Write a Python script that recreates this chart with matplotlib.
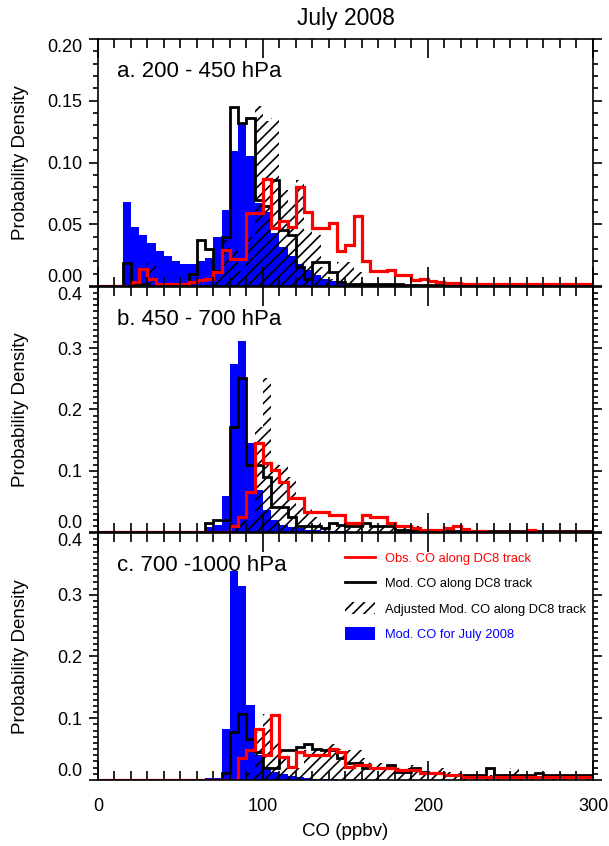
import numpy as np
import matplotlib
matplotlib.use("Agg")
import matplotlib.pyplot as plt
from matplotlib.ticker import MultipleLocator, FormatStrFormatter
from matplotlib.lines import Line2D
from matplotlib.patches import Patch

plt.rcParams['font.family'] = ['Liberation Sans', 'DejaVu Sans']
plt.rcParams['hatch.linewidth'] = 1.2

# CO bins, 5 ppbv wide, 0-300 ppbv
bin_edges = np.arange(0, 305, 5)

# ---- a. 200 - 450 hPa ----
blue_a = [0, 0, 0, 0.068, 0.048, 0.041, 0.035, 0.028, 0.024, 0.0205,
          0.018, 0.018, 0.020, 0.0225, 0.040, 0.0615, 0.109, 0.132, 0.105, 0.067,
          0.060, 0.043, 0.032, 0.024, 0.018, 0.013, 0.009, 0.006, 0.0043, 0.0027,
          0.0016, 0.001, 0.0006, 0.0003, 0, 0, 0, 0, 0, 0,
          0, 0, 0, 0, 0, 0, 0, 0, 0, 0,
          0, 0, 0, 0, 0, 0, 0, 0, 0, 0]
black_a = [0, 0, 0, 0.019, 0.002, 0.002, 0, 0, 0, 0,
           0, 0.010, 0.037, 0.030, 0.012, 0.040, 0.145, 0.132, 0.136, 0.070,
           0.065, 0.086, 0.045, 0.041, 0.0157, 0.006, 0.0197, 0.0197, 0.0116, 0.0035,
           0.002, 0.002, 0.002, 0.002, 0.002, 0.002, 0.002, 0.001, 0.001, 0.001,
           0.001, 0.001, 0.001, 0.001, 0.001, 0.001, 0.001, 0.001, 0.001, 0.001,
           0, 0, 0, 0, 0, 0, 0, 0, 0, 0]
hatch_a = [0, 0, 0, 0, 0, 0, 0.019, 0.002, 0.002, 0,
           0, 0, 0, 0, 0.010, 0.037, 0.030, 0.012, 0.040, 0.146,
           0.134, 0.136, 0.078, 0.068, 0.086, 0.045, 0.041, 0.0157, 0.006, 0.0197,
           0.0197, 0.0116, 0.0035, 0.002, 0.002, 0.002, 0.002, 0.002, 0.002, 0.002,
           0.001, 0.001, 0.001, 0.001, 0.001, 0.001, 0.001, 0.001, 0.001, 0.001,
           0.001, 0.001, 0.001, 0, 0, 0, 0, 0, 0, 0]
red_a = [0, 0, 0, 0, 0.003, 0.014, 0.006, 0.002, 0.002, 0.002,
         0.002, 0.0035, 0.005, 0.006, 0.0116, 0.029, 0.022, 0.022, 0.059, 0.059,
         0.087, 0.047, 0.053, 0.048, 0.080, 0.060, 0.047, 0.047, 0.051, 0.028,
         0.033, 0.057, 0.020, 0.012, 0.012, 0.013, 0.009, 0.009, 0.005, 0.006,
         0.0043, 0.0035, 0.0027, 0.0027, 0.0016, 0.002, 0.002, 0.002, 0.002, 0.002,
         0.002, 0.002, 0.002, 0.002, 0.002, 0.002, 0.002, 0.002, 0.002, 0.002]

# ---- b. 450 - 700 hPa ----
blue_b = [0, 0, 0, 0, 0, 0, 0, 0, 0, 0,
          0, 0, 0, 0.008, 0.011, 0.058, 0.275, 0.312, 0.146, 0.0685,
          0.036, 0.0196, 0.0114, 0.0087, 0.006, 0.004, 0.003, 0.002, 0.0015, 0.001,
          0.0007, 0.0004, 0.0004, 0.0004, 0, 0, 0, 0, 0, 0,
          0, 0, 0, 0, 0, 0, 0, 0, 0, 0,
          0, 0, 0, 0, 0, 0, 0, 0, 0, 0]
black_b = [0, 0, 0, 0, 0, 0, 0, 0, 0, 0,
           0, 0, 0, 0.015, 0.0196, 0.0196, 0.172, 0.251, 0.109, 0.109,
           0.090, 0.041, 0.041, 0.025, 0.009, 0.009, 0.009, 0.006, 0.014, 0.011,
           0.009, 0.009, 0.014, 0.009, 0.009, 0.009, 0.004, 0.004, 0.004, 0.004,
           0.002, 0.002, 0.002, 0.002, 0.002, 0.002, 0.002, 0.002, 0.002, 0.002,
           0.002, 0.002, 0.002, 0.002, 0.002, 0.002, 0.002, 0.002, 0.002, 0.002]
hatch_b = [0, 0, 0, 0, 0, 0, 0, 0, 0, 0,
           0, 0, 0, 0, 0, 0, 0.015, 0.0196, 0.0196, 0.172,
           0.251, 0.112, 0.109, 0.090, 0.041, 0.041, 0.025, 0.009, 0.009, 0.009,
           0.006, 0.014, 0.011, 0.009, 0.009, 0.014, 0.009, 0.009, 0.009, 0.004,
           0.004, 0.004, 0.004, 0.002, 0.002, 0.002, 0.002, 0.002, 0.002, 0.002,
           0.002, 0.002, 0.002, 0.002, 0.002, 0.002, 0.002, 0.002, 0.002, 0.002]
red_b = [0, 0, 0, 0, 0, 0, 0, 0, 0, 0,
         0, 0, 0, 0, 0, 0, 0.009, 0.025, 0.066, 0.145,
         0.113, 0.101, 0.082, 0.055, 0.055, 0.033, 0.033, 0.033, 0.028, 0.028,
         0.014, 0.014, 0.028, 0.025, 0.025, 0.014, 0.009, 0.009, 0.006, 0.003,
         0.003, 0.003, 0.006, 0.009, 0.0045, 0.002, 0.002, 0.0005, 0.0005, 0.0005,
         0.0005, 0.0005, 0.003, 0.0005, 0.0005, 0.0005, 0.0005, 0.0005, 0.0005, 0.0005]

# ---- c. 700 - 1000 hPa ----
blue_c = [0, 0, 0, 0, 0, 0, 0, 0, 0, 0,
          0, 0, 0, 0.004, 0.004, 0.082, 0.339, 0.314, 0.1215, 0.0405,
          0.0216, 0.0135, 0.009, 0.006, 0.0045, 0.003, 0.002, 0.0015, 0.001, 0.0005,
          0.0005, 0.0005, 0, 0, 0, 0, 0, 0, 0, 0,
          0, 0, 0, 0, 0, 0, 0, 0, 0, 0,
          0, 0, 0, 0, 0, 0, 0, 0, 0, 0]
black_c = [0, 0, 0, 0, 0, 0, 0, 0, 0, 0,
           0, 0, 0, 0, 0, 0.011, 0.078, 0.107, 0.066, 0.045,
           0.020, 0.020, 0.0486, 0.0486, 0.054, 0.059, 0.051, 0.049, 0.049, 0.035,
           0.027, 0.027, 0.019, 0.019, 0.019, 0.024, 0.013, 0.013, 0.019, 0.013,
           0.011, 0.011, 0.008, 0.008, 0.008, 0.008, 0.008, 0.019, 0.008, 0.008,
           0.008, 0.008, 0.008, 0.011, 0.008, 0.008, 0.008, 0.008, 0.008, 0.008]
hatch_c = [0, 0, 0, 0, 0, 0, 0, 0, 0, 0,
           0, 0, 0, 0, 0, 0, 0, 0, 0.011, 0.078,
           0.107, 0.066, 0.045, 0.020, 0.020, 0.0486, 0.0486, 0.054, 0.059, 0.051,
           0.049, 0.049, 0.035, 0.027, 0.027, 0.019, 0.019, 0.019, 0.024, 0.013,
           0.013, 0.019, 0.013, 0.011, 0.011, 0.008, 0.008, 0.008, 0.008, 0.008,
           0.019, 0.008, 0.008, 0.008, 0.008, 0.008, 0.011, 0.008, 0.008, 0.008]
red_c = [0, 0, 0, 0, 0, 0, 0, 0, 0, 0,
         0, 0, 0, 0, 0, 0, 0, 0.035, 0.0486, 0.082,
         0.0405, 0.105, 0.038, 0.0216, 0.046, 0.0405, 0.0405, 0.0405, 0.050, 0.046,
         0.0216, 0.024, 0.024, 0.019, 0.019, 0.019, 0.016, 0.016, 0.016, 0.011,
         0.011, 0.011, 0.008, 0.008, 0.0055, 0.0055, 0.0055, 0.0055, 0.0055, 0.0055,
         0.0055, 0.0055, 0.0045, 0.0045, 0.0045, 0.0045, 0.0045, 0.0045, 0.0045, 0.0045]

panels = [
    ("a. 200 - 450 hPa", blue_a, hatch_a, black_a, red_a, 0.20, 0.05, 0.01, '%.2f'),
    ("b. 450 - 700 hPa", blue_b, hatch_b, black_b, red_b, 0.4, 0.1, 0.01, '%.1f'),
    ("c. 700 -1000 hPa", blue_c, hatch_c, black_c, red_c, 0.4, 0.1, 0.01, '%.1f'),
]
# axes boxes [left, bottom, width, height] in figure fraction
boxes = [[0.1609, 0.6619, 0.8128, 0.2920],
         [0.1609, 0.3712, 0.8128, 0.2896],
         [0.1609, 0.0780, 0.8128, 0.2920]]

fig = plt.figure(figsize=(6.09, 8.46), dpi=100)
axes = []

for k, (label, blue, hatch, black, red, ymax, ymaj, ymin, fmt) in enumerate(panels):
    ax = fig.add_axes(boxes[k])
    axes.append((ax, ymax))
    ax.stairs(blue, bin_edges, fill=True, color='#0000ff', linewidth=0)
    ax.stairs(hatch, bin_edges, fill=True, facecolor='none', edgecolor='black',
              hatch='///', linewidth=0)
    ax.stairs(black, bin_edges, color='black', linewidth=2.0)
    ax.stairs(red, bin_edges, color='#ff0000', linewidth=2.3)

    ax.set_xlim(0, 300)
    ax.set_ylim(0, ymax)
    ax.xaxis.set_major_locator(MultipleLocator(100))
    ax.xaxis.set_minor_locator(MultipleLocator(10))
    ax.set_yticks(np.arange(0, ymax + ymaj / 2, ymaj))
    ax.yaxis.set_minor_locator(MultipleLocator(ymin))
    ax.yaxis.set_major_formatter(FormatStrFormatter(fmt))

    ax.tick_params(axis='x', which='both', direction='in', top=True, bottom=True,
                   width=1.2, labelsize=13, pad=13)
    ax.tick_params(axis='x', which='major', length=14)
    ax.tick_params(axis='x', which='minor', length=6.5)
    ax.tick_params(axis='y', which='both', direction='out', left=True, right=True,
                   width=1.2, labelsize=13, pad=5)
    ax.tick_params(axis='y', which='major', length=6.5)
    ax.tick_params(axis='y', which='minor', length=3.5)
    for s in ax.spines.values():
        s.set_linewidth(1.2)

    ax.set_ylabel('Probability Density', fontsize=13.5)
    ax.yaxis.set_label_coords(-0.14, 0.5)
    ax.text(0.038, 0.868, label, transform=ax.transAxes, fontsize=16, va='center')

    if k < 2:
        ax.tick_params(axis='x', labelbottom=False)
    else:
        ax.set_xlabel('CO (ppbv)', fontsize=13.5)
        ax.xaxis.set_label_coords(0.5, -0.175)
        handles = [Line2D([], [], color='#ff0000', linewidth=2),
                   Line2D([], [], color='black', linewidth=2),
                   Patch(facecolor='white', edgecolor='black', hatch='///', linewidth=0),
                   Patch(facecolor='#0000ff', linewidth=0)]
        names = ['Obs. CO along DC8 track', 'Mod. CO along DC8 track',
                 'Adjusted Mod. CO along DC8 track', 'Mod. CO for July 2008']
        ax.legend(handles, names, loc='upper left', bbox_to_anchor=(0.499, 0.925),
                  frameon=False, fontsize=9.3, handlelength=2.3, handleheight=1.1,
                  handletextpad=0.78, labelspacing=0.9, borderpad=0, borderaxespad=0,
                  labelcolor=['#ff0000', 'black', 'black', '#0000ff'])

fig.text(0.568, 1 - 18 / 846, 'July 2008', ha='center', va='center', fontsize=16.5)

# keep the end labels inside each panel so stacked panels do not collide
fig.canvas.draw()
for ax, ymax in axes:
    for tick, loc in zip(ax.yaxis.get_major_ticks(), ax.yaxis.get_majorticklocs()):
        if abs(loc) < 1e-9:
            tick.label1.set_verticalalignment('bottom')
        elif abs(loc - ymax) < 1e-9:
            tick.label1.set_verticalalignment('top')

fig.savefig('out.png', dpi=100)
